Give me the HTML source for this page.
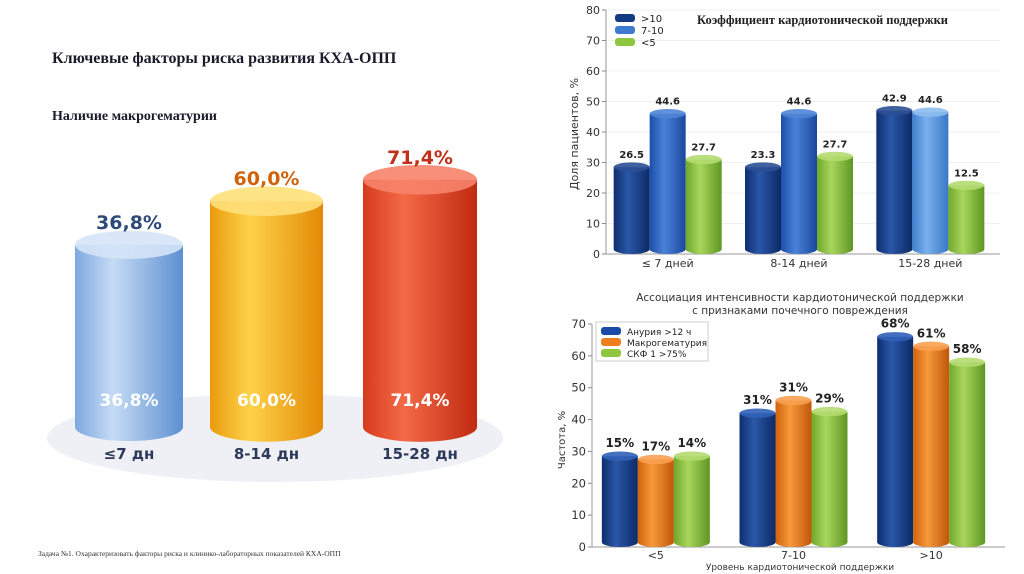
<!DOCTYPE html>
<html><head><meta charset="utf-8">
<style>
body{margin:0;width:1024px;height:574px;background:#fff;overflow:hidden;font-family:"Liberation Sans","DejaVu Sans",sans-serif}
svg{position:absolute;left:0;top:0}
</style></head>
<body>
<svg id="s" width="1024" height="574">
<defs>
<linearGradient id="gBlueL" x1="0" x2="1"><stop offset="0" stop-color="#7ea8e0"/><stop offset=".35" stop-color="#c6dbf5"/><stop offset="1" stop-color="#5d8fd2"/></linearGradient>
<linearGradient id="gYel" x1="0" x2="1"><stop offset="0" stop-color="#e99a0c"/><stop offset=".35" stop-color="#ffd24a"/><stop offset="1" stop-color="#e38a06"/></linearGradient>
<linearGradient id="gRed" x1="0" x2="1"><stop offset="0" stop-color="#d63a1c"/><stop offset=".35" stop-color="#f46a46"/><stop offset="1" stop-color="#c02a12"/></linearGradient>
<linearGradient id="gNavy" x1="0" x2="1"><stop offset="0" stop-color="#0e2e6e"/><stop offset=".4" stop-color="#2a57a8"/><stop offset="1" stop-color="#0c2a66"/></linearGradient>
<linearGradient id="gMid" x1="0" x2="1"><stop offset="0" stop-color="#1c4ea8"/><stop offset=".4" stop-color="#4a82d8"/><stop offset="1" stop-color="#1a489e"/></linearGradient>
<linearGradient id="gLight" x1="0" x2="1"><stop offset="0" stop-color="#3f7fcf"/><stop offset=".4" stop-color="#7ab0ec"/><stop offset="1" stop-color="#3a78c6"/></linearGradient>
<linearGradient id="gGreen" x1="0" x2="1"><stop offset="0" stop-color="#6fa82a"/><stop offset=".4" stop-color="#a9d65c"/><stop offset="1" stop-color="#5e9622"/></linearGradient>
<linearGradient id="gOr" x1="0" x2="1"><stop offset="0" stop-color="#d0620c"/><stop offset=".4" stop-color="#f7993a"/><stop offset="1" stop-color="#c0560a"/></linearGradient>
</defs>
<text x="52" y="63" font-family="Liberation Serif,serif" font-weight="bold" font-size="16" fill="#1a1a2a">Ключевые факторы риска развития КХА-ОПП</text>
<text x="52" y="120" font-family="Liberation Serif,serif" font-weight="bold" font-size="14" fill="#1a1a2a">Наличие макрогематурии</text>
<ellipse cx="275" cy="438" rx="228" ry="44" fill="#eef0f6"/>
<g id="left"></g>
<text x="38" y="556" font-family="Liberation Serif,serif" font-size="7.5" fill="#333">Задача №1. Охарактеризовать факторы риска и клинико-лабораторных показателей КХА-ОПП</text>
<g id="top"></g>
<g id="bot"></g>
</svg>
<script>
const NS="http://www.w3.org/2000/svg";
function mk(tag,attrs,parent,txt){const e=document.createElementNS(NS,tag);for(const k in attrs)e.setAttribute(k,attrs[k]);if(txt!==undefined)e.textContent=txt;parent.appendChild(e);return e;}
function cyl(g,x,w,yTop,yBase,fill,cap){
  const r=w/2,ry=Math.max(4,w*0.13);
  mk('path',{d:`M${x},${yTop} L${x},${yBase} A${r},${ry} 0 0 0 ${x+w},${yBase} L${x+w},${yTop} Z`,fill:fill},g);
  mk('ellipse',{cx:x+r,cy:yTop,rx:r,ry:ry,fill:cap,opacity:0.9},g);
}
// Left chart
const leftCats=["≤7 дн","8-14 дн","15-28 дн"];
const leftVals=[36.8,60.0,71.4];
const leftLabels=["36,8%","60,0%","71,4%"];
const leftFill=["url(#gBlueL)","url(#gYel)","url(#gRed)"];
const leftCap=["#d5e4f7","#ffe07a","#f7836a"];
const leftTxt=["#2d4a78","#d0620c","#c0301a"];
const leftX=[75,210,363];
(function(){
  const g=document.getElementById('left');
  const base=427;
  const hOf=v=>113+1.88*v;
  leftVals.forEach((v,i)=>{
    const w=i==0?108:(i==1?113:114);
    const top=base-hOf(v);
    const bg=mk('g',{},g);
    
    
    cyl(bg,leftX[i],w,top,base,leftFill[i],leftCap[i]);
    const cx=leftX[i]+w/2;
    const t1=mk('text',{x:cx,y:top-16,'text-anchor':'middle','font-size':19,'font-weight':'bold',fill:leftTxt[i],'font-family':'DejaVu Sans,sans-serif'},g,leftLabels[i]);
    
    
    const t2=mk('text',{x:cx,y:406,'text-anchor':'middle','font-size':17,'font-weight':'bold',fill:'#fff','font-family':'DejaVu Sans,sans-serif'},g,leftLabels[i]);
    
    
    const t3=mk('text',{x:cx,y:459,'text-anchor':'middle','font-size':15,'font-weight':'bold',fill:'#2d3a5a','font-family':'DejaVu Sans,sans-serif'},g,leftCats[i]);
    
    
  });
})();
// Top right chart
const topCats=["≤ 7 дней","8-14 дней","15-28 дней"];
const topSeries=[">10","7-10","<5"];
const topHeights=[[28.5,28.5,47],[46,46,46.5],[31,32,22.5]];
const topLabels=[["26.5","23.3","42.9"],["44.6","44.6","44.6"],["27.7","27.7","12.5"]];
const topTicks=[0,10,20,30,40,50,60,70,80];
// Bottom chart
const botCats=["<5","7-10",">10"];
const botSeries=["Анурия >12 ч","Макрогематурия","СКФ 1 >75%"];
const botHeights=[[28.5,42,66],[27.5,46,63],[28.5,42.5,58]];
const botLabels=[["15%","31%","68%"],["17%","31%","61%"],["14%","29%","58%"]];
const botTicks=[0,10,20,30,40,50,60,70];

function chart(gid,o){
  const g=document.getElementById(gid);
  const y=v=>o.y0-(v-o.min)*(o.y0-o.y1)/(o.max-o.min);
  const gw=(o.x1-o.x0)/o.cats.length;
  o.ticks.forEach(t=>{
    if(o.grid&&t>0)mk('line',{x1:o.x0,x2:o.x1,y1:y(t),y2:y(t),stroke:'#eef0f2'},g);
    const tl=mk('text',{x:o.tx,y:y(t)+4,'text-anchor':'end','font-size':o.tfs,fill:'#333','font-family':'DejaVu Sans,sans-serif'},g,String(t));
    
    
    mk('line',{x1:o.x0-4,x2:o.x0,y1:y(t),y2:y(t),stroke:'#888'},g);
  });
  mk('line',{x1:o.x0,x2:o.x0,y1:o.y1,y2:o.y0,stroke:'#999'},g);
  mk('line',{x1:o.x0,x2:o.x1,y1:o.y0,y2:o.y0,stroke:'#999'},g);
  const ry=Math.max(4,o.bw*0.13);
  o.cats.forEach((c,ci)=>{
    const gc=o.x0+gw*(ci+0.5)+o.shift;
    const cl=mk('text',{x:gc,y:o.y0+o.cy,'text-anchor':'middle','font-size':11,fill:'#333','font-family':'DejaVu Sans,sans-serif'},g,c);
    
    
    o.h.forEach((ser,si)=>{
      const bx=gc+(si-1)*o.step-o.bw/2;
      const top=y(ser[ci]);
      const bg=mk('g',{},g);
      
      
      cyl(bg,bx,o.bw,top,o.y0-ry,o.fills[si](ci),o.caps[si](ci));
      const vl=mk('text',{x:bx+o.bw/2,y:top-9,'text-anchor':'middle','font-size':o.lfs,'font-weight':o.lfw,fill:'#222','font-family':'DejaVu Sans,sans-serif'},g,o.labels[si][ci]);
      
      
    });
  });
  if(o.lbox)mk('rect',{x:o.lx-5,y:o.ly-10,width:o.lbox,height:o.lstep*3+6,fill:'#fff',stroke:'#ccc'},g);
  o.series.forEach((s,i)=>{
    mk('rect',{x:o.lx,y:o.ly+i*o.lstep-5,width:20,height:8,rx:3,fill:o.lcol[i]},g);
    const le=mk('text',{x:o.lx+26,y:o.ly+i*o.lstep+3,'font-size':o.lfsz,fill:'#222','font-family':'DejaVu Sans,sans-serif'},g,s);
    
    
  });
}
chart('top',{x0:606,x1:1000,y0:254,y1:10,min:0,max:80,ticks:topTicks,cats:topCats,series:topSeries,h:topHeights,labels:topLabels,
  shift:-4,step:36,bw:36,grid:true,lfs:10,lfw:'bold',tx:600,tfs:11,cy:13,
  fills:[()=>'url(#gNavy)',c=>c==2?'url(#gLight)':'url(#gMid)',()=>'url(#gGreen)'],
  caps:[()=>'#2c4f94',c=>c==2?'#8cbcee':'#4f85d6',()=>'#b4dc70'],
  lx:615,ly:19,lstep:12,lfsz:10,lcol:['#143a82','#3d7ad0','#8ec63f']});
chart('bot',{x0:592,x1:1005,y0:547,y1:324,min:0,max:70,ticks:botTicks,cats:botCats,series:botSeries,h:botHeights,labels:botLabels,
  shift:-5,step:36,bw:36,grid:false,lfs:12,lfw:'bold',tx:586,tfs:11.5,cy:12,lbox:112,
  fills:[()=>'url(#gNavy)',()=>'url(#gOr)',()=>'url(#gGreen)'],
  caps:[()=>'#3160b8',()=>'#f8a050',()=>'#b4dc70'],
  lx:601,ly:332,lstep:11,lfsz:9,lcol:['#1a4aa8','#ee7f1e','#8ec63f']});
(function(){
  const s=document.getElementById('s');
  const t=mk('text',{x:697,y:24,'font-size':12.5,'font-weight':'bold',fill:'#222','font-family':'Liberation Serif,serif'},s,'Коэффициент кардиотонической поддержки');
  
  const t2=mk('text',{x:800,y:301,'text-anchor':'middle','font-size':10.5,fill:'#333','font-family':'DejaVu Sans,sans-serif'},s,'Ассоциация интенсивности кардиотонической поддержки');
  
  const t3=mk('text',{x:800,y:314,'text-anchor':'middle','font-size':10.5,fill:'#333','font-family':'DejaVu Sans,sans-serif'},s,'с признаками почечного повреждения');
  
  const a1=mk('text',{x:0,y:0,transform:'translate(578,134) rotate(-90)','text-anchor':'middle','font-size':11,fill:'#333','font-family':'DejaVu Sans,sans-serif'},s,'Доля пациентов, %');
  
  const a2=mk('text',{x:0,y:0,transform:'translate(565,440) rotate(-90)','text-anchor':'middle','font-size':10,fill:'#333','font-family':'DejaVu Sans,sans-serif'},s,'Частота, %');
  
  const a3=mk('text',{x:800,y:570,'text-anchor':'middle','font-size':9,fill:'#333','font-family':'DejaVu Sans,sans-serif'},s,'Уровень кардиотонической поддержки');
  
})();
</script>
</body></html>
